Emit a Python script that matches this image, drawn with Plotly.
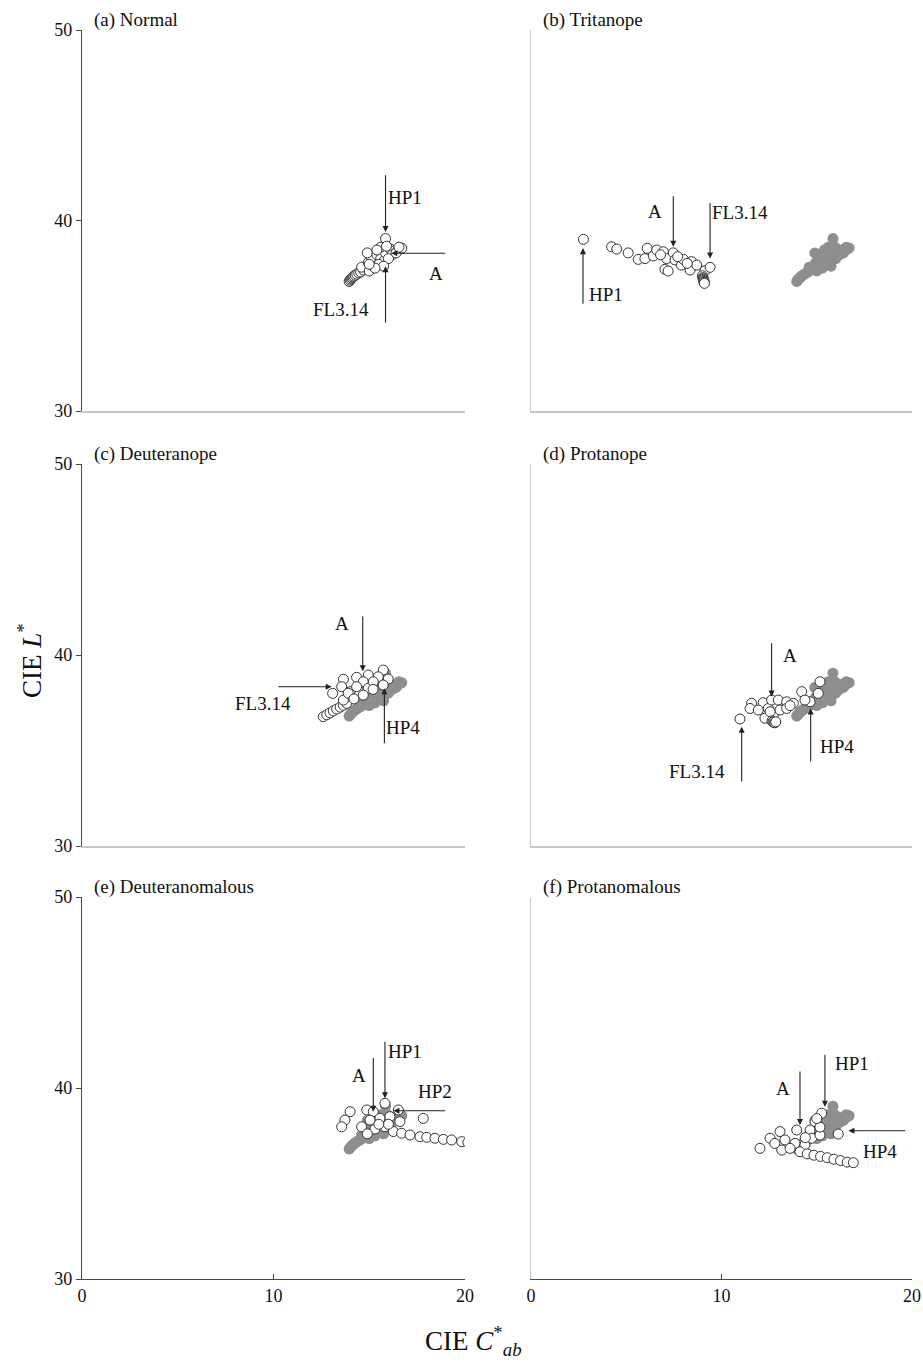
import plotly.graph_objects as go

# ---------------- data (CIE C*ab, CIE L*) ----------------
normal_C = [13.95, 14.0, 14.05, 14.1, 14.15, 14.2, 14.27, 14.35, 14.45, 14.55,
            14.7, 14.9, 14.6, 15.0, 15.2, 14.95, 15.3, 15.1, 14.9, 15.4,
            15.6, 15.8, 15.5, 15.85, 15.6, 15.85, 16.1, 16.3, 16.5, 16.2,
            16.0, 15.75, 15.3, 15.9, 16.6, 16.4, 15.4, 15.0, 16.7, 16.55]
normal_L = [36.8, 36.87, 36.93, 36.98, 37.03, 37.08, 37.13, 37.18, 37.25, 37.3,
            37.4, 37.5, 37.55, 37.35, 37.6, 37.8, 37.85, 38.05, 38.3, 38.2,
            38.0, 37.9, 37.7, 38.3, 38.6, 39.05, 38.5, 38.4, 38.45, 38.2,
            38.0, 37.6, 37.5, 38.65, 38.5, 38.3, 38.45, 37.7, 38.55, 38.6]

trit_C = [2.75, 4.23, 4.5, 5.1, 5.63, 5.98, 6.1, 6.42, 6.6, 6.95, 7.03, 7.12, 7.2,
          7.47, 7.56, 7.9, 8.0, 8.35, 8.43, 8.7, 9.13, 9.4, 6.8, 7.7, 8.2,
          9.0, 9.02, 9.04, 9.06, 9.07, 9.08, 9.09, 9.1]
trit_L = [39.01, 38.62, 38.5, 38.3, 37.96, 38.0, 38.54, 38.14, 38.45, 38.36, 37.44, 38.0, 37.35,
          38.3, 37.93, 37.66, 37.96, 37.4, 37.84, 37.66, 37.36, 37.54, 38.2, 38.1, 37.75,
          37.1, 37.0, 36.95, 36.9, 36.85, 36.8, 36.75, 36.7]

deut_C = [12.6, 12.78, 12.95, 13.12, 13.3, 13.48, 13.65, 13.82,
          13.65, 13.09, 13.56, 14.34, 14.95, 15.73, 15.99, 15.47, 14.69, 14.0,
          14.34, 14.95, 14.69, 15.73, 15.21, 13.65, 13.9, 15.2, 14.2]
deut_L = [36.77, 36.87, 36.97, 37.07, 37.17, 37.27, 37.37, 37.47,
          38.73, 37.99, 38.34, 38.83, 38.95, 39.21, 38.74, 38.86, 38.6, 38.08,
          38.34, 38.26, 37.9, 38.43, 38.6, 37.64, 38.0, 38.2, 37.7]

prot_C = [10.97, 11.58, 11.5, 12.19, 11.93, 12.46, 12.63, 12.98, 13.42, 13.77,
          12.28, 12.72, 13.07, 13.42, 13.6, 12.55, 14.21, 14.65, 15.08, 15.17,
          14.38, 12.65, 12.7, 12.75, 12.8, 12.85]
prot_L = [36.65, 37.47, 37.2, 37.5, 37.12, 37.2, 37.64, 37.64, 37.55, 37.47,
          36.69, 36.86, 37.12, 37.2, 37.35, 37.03, 38.08, 37.55, 37.99, 38.6,
          37.64, 36.55, 36.5, 36.47, 36.45, 36.5]

deuta_C = [14.0, 13.73, 13.56, 15.82, 14.87, 15.21, 16.52, 17.82, 14.6, 15.04,
           15.56, 16.08, 15.82, 16.6, 16.26, 15.3, 14.9, 16.0, 15.5, 16.69,
           17.13, 17.65, 18.0, 18.43, 18.87, 19.3, 19.83, 20.15]
deuta_L = [38.76, 38.32, 37.97, 39.2, 38.85, 38.76, 38.85, 38.41, 37.97, 38.32,
           38.41, 38.5, 37.97, 38.24, 37.72, 37.85, 37.6, 38.1, 38.1, 37.63,
           37.54, 37.45, 37.42, 37.37, 37.31, 37.28, 37.19, 37.15]

prota_C = [12.02, 12.55, 13.07, 13.16, 12.8, 13.95, 13.86, 14.38, 14.65, 14.73,
           15.17, 15.26, 14.91, 15.17, 16.13, 13.33, 13.6, 14.12, 14.4, 15.0,
           14.5, 14.85, 15.2, 15.55, 15.9, 16.25, 16.6, 16.92]
prota_L = [36.84, 37.37, 37.72, 36.75, 37.1, 37.8, 37.1, 37.02, 37.8, 37.37,
           37.54, 38.68, 38.24, 37.95, 37.59, 37.28, 36.84, 36.66, 37.4, 38.4,
           36.55, 36.48, 36.42, 36.35, 36.27, 36.2, 36.12, 36.09]

panel_titles = ["(a) Normal", "(b) Tritanope", "(c) Deuteranope",
                "(d) Protanope", "(e) Deuteranomalous", "(f) Protanomalous"]
panel_C = [normal_C, trit_C, deut_C, prot_C, deuta_C, prota_C]
panel_L = [normal_L, trit_L, deut_L, prot_L, deuta_L, prota_L]

# arrows: (label, tail C, tail L, head C, head L, label C, label L)
panel_arrows = [
    [("HP1", 15.85, 42.45, 15.85, 39.4, 16.85, 41.2),
     ("A", 19.05, 38.28, 16.15, 38.28, 18.5, 37.2),
     ("FL3.14", 15.85, 34.55, 15.85, 37.6, 13.5, 35.35)],
    [("HP1", 2.73, 35.55, 2.73, 38.55, 3.95, 36.1),
     ("A", 7.47, 41.35, 7.47, 38.62, 6.5, 40.45),
     ("FL3.14", 9.4, 41.0, 9.4, 38.0, 10.95, 40.4)],
    [("A", 14.66, 42.1, 14.66, 39.15, 13.56, 41.65),
     ("FL3.14", 10.17, 38.34, 13.04, 38.34, 9.45, 37.45),
     ("HP4", 15.79, 35.3, 15.79, 38.26, 16.75, 36.2)],
    [("A", 12.63, 40.7, 12.63, 37.82, 13.6, 40.0),
     ("FL3.14", 11.06, 33.3, 11.06, 36.25, 8.7, 33.9),
     ("HP4", 14.68, 34.35, 14.68, 37.2, 16.05, 35.2)],
    [("HP1", 15.82, 42.5, 15.82, 39.46, 16.87, 41.9),
     ("A", 15.21, 41.65, 15.21, 38.76, 14.48, 40.68),
     ("HP2", 19.04, 38.81, 16.26, 38.81, 18.43, 39.8)],
    [("HP1", 15.43, 41.82, 15.43, 39.02, 16.83, 41.29),
     ("A", 14.12, 40.94, 14.12, 38.06, 13.24, 39.98),
     ("HP4", 19.72, 37.76, 16.66, 37.76, 18.32, 36.67)],
]

x_ticks = [0, 10, 20]
y_ticks = [30, 40, 50]

# ---------------- layout geometry ----------------
W, H = 923, 1365
col_px = [(82, 465), (531, 912)]
row_px = [(30, 411), (464, 846), (897, 1279)]
FONT = "Liberation Serif"
DARK = "#4a4a4a"
LIGHT = "#c8c8c8"
LAB = 19

fig = go.Figure()
layout = dict(width=W, height=H, margin=dict(l=0, r=0, t=0, b=0, pad=0, autoexpand=False),
              plot_bgcolor="white", paper_bgcolor="white", showlegend=False,
              font=dict(family=FONT, size=18, color="#111"))
annotations = []

for i in range(6):
    r, c = divmod(i, 2)
    sx = "" if i == 0 else str(i + 1)
    xa, ya = "x" + sx, "y" + sx
    if i > 0:
        fig.add_trace(go.Scatter(x=normal_C, y=normal_L, mode="markers", xaxis=xa, yaxis=ya,
                                 marker=dict(size=11, color="#8e8e8e", line=dict(width=0)),
                                 hoverinfo="skip"))
    fig.add_trace(go.Scatter(x=panel_C[i], y=panel_L[i], mode="markers", xaxis=xa, yaxis=ya,
                             marker=dict(size=10, color="white", line=dict(width=1, color="#333"))))
    bottom = (r == 2)
    left = (c == 0)
    layout["xaxis" + sx] = dict(
        domain=[col_px[c][0] / W, col_px[c][1] / W], anchor=ya, range=[0, 20],
        automargin=False,
        showgrid=False, zeroline=False, showline=True,
        linecolor=DARK if bottom else LIGHT, linewidth=1.2 if bottom else 2,
        ticks="inside" if bottom else "", ticklen=5, tickcolor=DARK,
        tickvals=x_ticks, showticklabels=bottom,
        tickfont=dict(family=FONT, size=18, color="#111"))
    layout["yaxis" + sx] = dict(
        domain=[1 - row_px[r][1] / H, 1 - row_px[r][0] / H], anchor=xa, range=[30, 50],
        automargin=False,
        showgrid=False, zeroline=False, showline=True,
        linecolor=DARK if left else LIGHT, linewidth=1.2,
        ticks="outside" if left else "", ticklen=5, tickcolor=DARK,
        tickvals=y_ticks, showticklabels=left,
        tickfont=dict(family=FONT, size=18, color="#111"))
    annotations.append(dict(text=panel_titles[i], xref=xa + " domain", yref=ya + " domain",
                            x=0.026, y=1 + 10 / 381, xanchor="left", yanchor="middle",
                            showarrow=False, font=dict(family=FONT, size=LAB, color="#111")))
    for lab, tc, tl, hc, hl, lc, ll in panel_arrows[i]:
        annotations.append(dict(text="", x=hc, y=hl, ax=tc, ay=tl, xref=xa, yref=ya,
                                axref=xa, ayref=ya, showarrow=True, arrowhead=2,
                                arrowsize=1.1, arrowwidth=1.1, arrowcolor="#222", standoff=0))
        annotations.append(dict(text=lab, x=lc, y=ll, xref=xa, yref=ya, showarrow=False,
                                xanchor="center", yanchor="middle",
                                font=dict(family=FONT, size=LAB, color="#111")))

annotations.append(dict(text="CIE <i>L</i><sup>*</sup>", xref="paper", yref="paper",
                        x=30 / W, y=1 - 660 / H, textangle=-90, showarrow=False,
                        xanchor="center", yanchor="middle",
                        font=dict(family=FONT, size=27, color="#111")))
annotations.append(dict(text="CIE <i>C</i><sup>*</sup><sub><i>ab</i></sub>", xref="paper", yref="paper",
                        x=473 / W, y=1 - 1341 / H, showarrow=False,
                        xanchor="center", yanchor="middle",
                        font=dict(family=FONT, size=27, color="#111")))
layout["annotations"] = annotations
fig.update_layout(**layout)
fig.write_html("out.html", config={"displayModeBar": False},
               post_script="document.body.style.margin='0px';document.body.style.overflow='hidden';")
